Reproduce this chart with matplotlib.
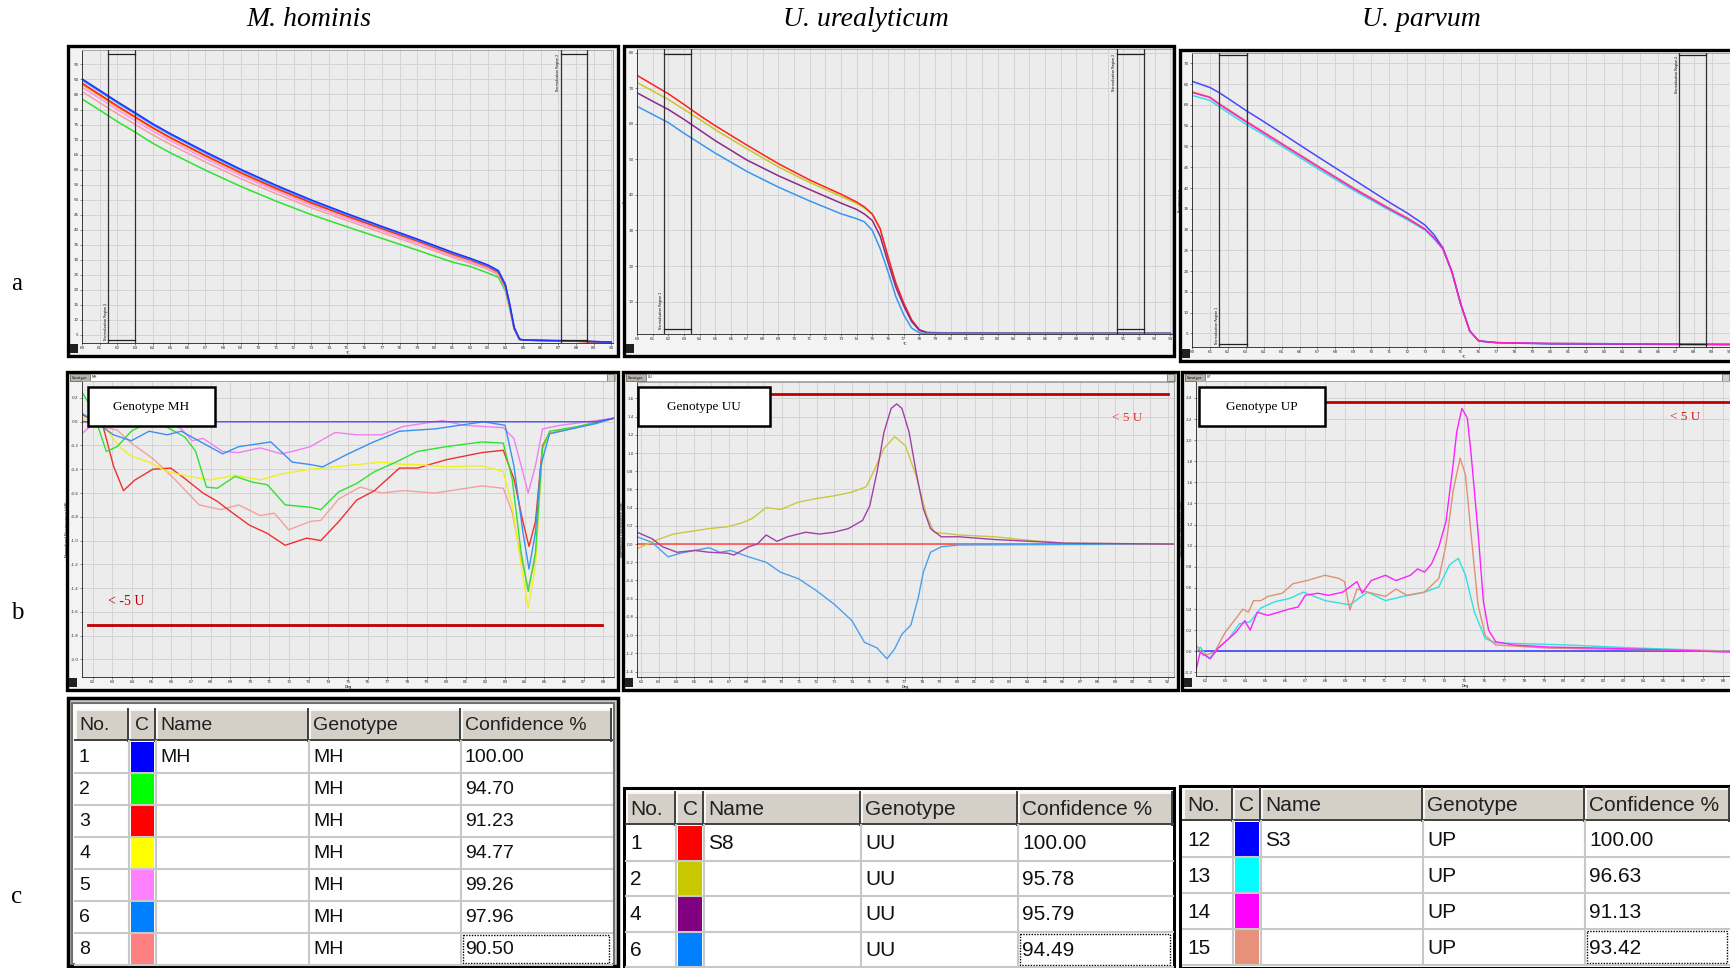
import matplotlib
matplotlib.use("Agg")
import matplotlib.pyplot as plt
from matplotlib.patches import Rectangle

W, H = 1730, 968

# ---------------- row a : raw melt curves ----------------
# M. hominis
mh_raw_t = [60, 61, 62, 63, 64, 65, 67, 69, 71, 73, 75, 77, 79, 81, 82, 83, 83.6, 84, 84.25, 84.5, 84.8, 85, 86, 88, 90]
mh_raw_blue = [90.2, 86.4, 82.6, 79.0, 75.3, 72.0, 65.9, 60.1, 54.8, 49.9, 45.4, 41.1, 36.9, 32.5, 30.5, 28.3, 26.4, 21.8, 15.2, 7.5, 3.6, 3.3, 3.2, 3.0, 2.6]
mh_raw_ltblue = [89.8, 86.0, 82.2, 78.6, 74.9, 71.6, 65.5, 59.7, 54.4, 49.5, 45.1, 40.8, 36.6, 32.2, 30.2, 28.0, 26.1, 21.4, 14.8, 7.2, 3.6, 3.3, 3.2, 3.0, 2.6]
mh_raw_red = [88.8, 85.0, 81.2, 77.6, 74.0, 70.7, 64.7, 59.0, 53.8, 49.0, 44.6, 40.4, 36.3, 31.9, 30.0, 27.8, 25.9, 21.1, 14.6, 7.1, 3.5, 3.3, 3.1, 2.9, 2.5]
mh_raw_yellow = [88.3, 84.6, 80.8, 77.3, 73.7, 70.4, 64.4, 58.7, 53.5, 48.7, 44.4, 40.2, 36.1, 31.7, 29.8, 27.6, 25.7, 20.9, 14.4, 7.0, 3.5, 3.3, 3.1, 2.9, 2.5]
mh_raw_pink = [87.4, 83.7, 79.9, 76.4, 72.8, 69.6, 63.6, 58.0, 52.9, 48.1, 43.8, 39.7, 35.6, 31.3, 29.4, 27.2, 25.4, 20.6, 14.1, 6.9, 3.5, 3.3, 3.1, 2.9, 2.5]
mh_raw_salmon = [86.0, 82.3, 78.6, 75.1, 71.6, 68.4, 62.5, 57.0, 52.0, 47.3, 43.1, 39.0, 35.0, 30.8, 28.9, 26.8, 25.0, 20.3, 13.9, 6.8, 3.5, 3.3, 3.1, 2.9, 2.5]
mh_raw_green = [83.5, 79.8, 76.0, 72.5, 68.8, 65.6, 59.8, 54.4, 49.5, 45.0, 41.0, 37.1, 33.2, 29.2, 27.8, 25.6, 24.2, 19.6, 13.5, 6.9, 3.6, 3.3, 3.1, 2.9, 2.5]

# U. urealyticum
uu_raw_t = [60, 61, 62, 63, 64, 65, 67, 69, 71, 73, 74, 74.5, 75, 75.5, 76, 76.5, 77, 77.5, 78, 78.5, 80, 85, 90, 94]
uu_raw_red = [73.6, 71.0, 68.4, 65.4, 62.3, 59.4, 54.0, 48.8, 44.2, 40.2, 38.0, 36.6, 34.6, 30.5, 22.6, 15.2, 9.6, 4.9, 2.1, 1.3, 1.2, 1.1, 1.1, 1.1]
uu_raw_olive = [71.6, 69.2, 66.8, 64.0, 61.2, 58.3, 53.0, 47.9, 43.5, 39.6, 37.6, 36.3, 34.5, 30.3, 22.4, 15.0, 9.5, 4.8, 2.0, 1.3, 1.2, 1.1, 1.1, 1.1]
uu_raw_purple = [68.7, 66.3, 64.0, 61.2, 58.2, 55.2, 49.8, 45.4, 41.5, 37.7, 35.9, 34.6, 32.8, 28.4, 21.0, 14.0, 8.8, 4.4, 1.9, 1.3, 1.2, 1.1, 1.1, 1.1]
uu_raw_blue = [64.9, 62.6, 60.3, 57.3, 54.5, 51.7, 46.6, 42.2, 38.3, 34.7, 33.3, 32.4, 30.0, 24.9, 18.4, 11.4, 6.3, 2.6, 1.2, 1.1, 1.1, 1.1, 1.1, 1.1]

# U. parvum
up_raw_t = [60, 61, 61.5, 62, 63, 64, 65, 67, 69, 71, 72, 73, 73.5, 74, 74.5, 75, 75.5, 76, 77, 80, 85, 90]
up_raw_blue = [65.7, 64.2, 63.0, 61.6, 58.7, 56.0, 53.2, 47.6, 42.1, 36.6, 34.0, 31.1, 28.8, 25.6, 19.9, 12.0, 5.6, 3.2, 2.8, 2.5, 2.4, 2.3]
up_raw_magenta = [63.0, 61.8, 60.2, 58.8, 56.0, 53.3, 50.6, 45.2, 39.9, 35.0, 32.7, 30.1, 28.0, 25.4, 19.9, 12.0, 5.6, 3.2, 2.8, 2.6, 2.5, 2.4]
up_raw_salmon = [63.2, 61.9, 60.4, 59.0, 56.2, 53.5, 50.8, 45.4, 40.1, 35.2, 32.9, 30.2, 28.1, 25.5, 19.9, 12.0, 5.6, 3.2, 2.8, 2.6, 2.5, 2.4]
up_raw_cyan = [62.3, 61.1, 59.6, 58.2, 55.4, 52.8, 50.1, 44.7, 39.5, 34.7, 32.4, 29.9, 27.8, 25.3, 19.8, 12.0, 5.6, 3.2, 2.8, 2.6, 2.5, 2.4]

# ---------------- row b : difference plots ----------------
mh_ref_t = [61.45, 87.64, 88.55]
mh_ref_v = [0.0, 0.0, 0.03]
mh_dif_ltblue_t = [61.45, 62.14, 63.05, 63.96, 64.87, 65.79, 66.51, 67.61, 68.61, 69.43, 71.07, 72.16, 73.07, 73.71, 74.89, 76.17, 77.62, 79.45, 81.9, 83.0, 83.45, 83.91, 84.22, 84.55, 84.82, 85.27, 87.64, 88.55]
mh_dif_ltblue_v = [0.07, 0.0, -0.11, -0.16, -0.08, -0.11, -0.08, -0.18, -0.27, -0.21, -0.17, -0.34, -0.36, -0.38, -0.28, -0.18, -0.08, -0.06, 0.0, -0.03, -0.37, -0.93, -1.24, -0.93, -0.37, -0.1, -0.015, 0.03]
mh_dif_pink_t = [61.45, 62.14, 63.96, 65.79, 66.51, 67.06, 67.61, 68.61, 69.43, 70.52, 71.61, 72.16, 73.07, 74.35, 75.44, 76.71, 77.81, 79.81, 80.9, 82.91, 83.45, 83.82, 84.18, 84.55, 84.91, 85.82, 88.55]
mh_dif_pink_v = [-0.1, 0.0, 0.05, 0.0, -0.06, -0.16, -0.14, -0.25, -0.26, -0.22, -0.27, -0.25, -0.21, -0.09, -0.11, -0.11, -0.04, 0.01, -0.03, -0.05, -0.14, -0.37, -0.6, -0.37, -0.06, -0.03, 0.03]
mh_dif_green_t = [61.45, 61.96, 62.69, 63.24, 63.96, 64.51, 65.6, 66.7, 67.24, 67.79, 68.34, 69.25, 70.16, 70.89, 71.8, 73.07, 73.62, 74.53, 75.44, 76.35, 77.44, 78.54, 80.0, 81.81, 82.91, 83.36, 83.82, 84.18, 84.55, 84.91, 85.27, 86.73, 88.55]
mh_dif_green_v = [0.25, 0.11, -0.25, -0.21, -0.08, -0.03, -0.03, -0.13, -0.25, -0.55, -0.56, -0.46, -0.51, -0.53, -0.70, -0.72, -0.74, -0.59, -0.52, -0.42, -0.34, -0.25, -0.21, -0.17, -0.18, -0.48, -1.1, -1.43, -1.1, -0.22, -0.08, -0.04, 0.03]
mh_dif_red_t = [61.45, 62.51, 63.05, 63.56, 64.15, 65.06, 65.97, 66.7, 67.61, 68.34, 69.06, 69.97, 70.89, 71.8, 72.89, 73.62, 74.53, 75.44, 76.35, 77.62, 78.54, 80.0, 81.81, 82.91, 83.45, 83.91, 84.22, 84.55, 84.91, 85.27, 88.55]
mh_dif_red_v = [0.06, -0.03, -0.37, -0.58, -0.49, -0.4, -0.39, -0.48, -0.6, -0.67, -0.76, -0.87, -0.94, -1.04, -0.98, -1.0, -0.84, -0.66, -0.58, -0.39, -0.39, -0.32, -0.26, -0.24, -0.48, -0.84, -1.05, -0.84, -0.2, -0.1, 0.03]
mh_dif_yellow_t = [61.45, 62.51, 63.42, 63.96, 64.87, 65.79, 66.88, 67.97, 69.25, 70.52, 71.61, 73.07, 74.89, 76.71, 77.81, 78.54, 80.0, 81.81, 82.91, 83.36, 83.82, 84.18, 84.55, 84.91, 85.27, 88.55]
mh_dif_yellow_v = [0.03, -0.03, -0.22, -0.29, -0.34, -0.42, -0.46, -0.49, -0.45, -0.49, -0.44, -0.4, -0.37, -0.34, -0.36, -0.36, -0.38, -0.37, -0.42, -0.7, -1.21, -1.57, -1.21, -0.22, -0.1, 0.03]
mh_dif_salmon_t = [61.45, 62.14, 63.24, 63.96, 65.06, 66.15, 67.42, 68.52, 69.43, 70.52, 71.25, 71.98, 73.07, 73.62, 74.53, 75.62, 76.71, 77.81, 79.45, 81.81, 82.91, 83.36, 83.82, 84.18, 84.55, 84.91, 85.27, 88.55]
mh_dif_salmon_v = [0.01, -0.03, -0.07, -0.18, -0.31, -0.48, -0.7, -0.74, -0.7, -0.79, -0.77, -0.91, -0.84, -0.83, -0.65, -0.55, -0.6, -0.58, -0.6, -0.54, -0.56, -0.76, -1.15, -1.4, -1.15, -0.22, -0.1, 0.03]

uu_ref_t = [61.76, 92.35]
uu_ref_v = [0.0, 0.0]
uu_dif_purple_t = [61.76, 62.61, 63.22, 64.04, 65.05, 65.87, 66.89, 67.29, 68.11, 68.61, 69.12, 69.73, 70.34, 71.36, 72.17, 72.99, 73.8, 74.61, 75.02, 75.43, 75.83, 76.24, 76.55, 76.85, 77.26, 77.66, 78.07, 78.48, 79.09, 80.1, 82.14, 84.17, 86.2, 92.35]
uu_dif_purple_v = [0.13, 0.06, -0.03, -0.09, -0.07, -0.09, -0.1, -0.12, -0.03, 0.0, 0.1, 0.03, 0.08, 0.13, 0.11, 0.13, 0.17, 0.26, 0.42, 0.79, 1.23, 1.49, 1.54, 1.49, 1.23, 0.79, 0.39, 0.17, 0.08, 0.08, 0.05, 0.03, 0.01, 0.0]
uu_dif_olive_t = [61.76, 62.82, 63.83, 64.85, 65.87, 66.89, 67.7, 68.31, 69.12, 69.94, 70.95, 71.97, 72.99, 74.0, 74.82, 75.22, 75.83, 76.44, 77.05, 77.66, 78.27, 78.68, 80.1, 82.14, 84.17, 86.2, 92.35]
uu_dif_olive_v = [-0.05, 0.04, 0.11, 0.14, 0.17, 0.19, 0.23, 0.28, 0.4, 0.38, 0.46, 0.5, 0.53, 0.57, 0.63, 0.79, 1.05, 1.18, 1.08, 0.75, 0.31, 0.13, 0.1, 0.08, 0.04, 0.01, 0.0]
uu_dif_blue_t = [61.76, 62.61, 63.53, 64.24, 65.05, 65.87, 66.48, 67.09, 68.11, 69.12, 69.94, 70.95, 71.97, 72.99, 74.0, 74.72, 75.43, 76.0, 76.44, 76.85, 77.36, 77.77, 78.07, 78.48, 79.09, 80.1, 92.35]
uu_dif_blue_v = [0.08, 0.02, -0.14, -0.1, -0.07, -0.04, -0.09, -0.07, -0.14, -0.2, -0.31, -0.38, -0.51, -0.66, -0.84, -1.08, -1.14, -1.26, -1.15, -0.99, -0.89, -0.6, -0.31, -0.09, -0.03, -0.01, 0.0]

up_ref_t = [61.52, 88.6]
up_ref_v = [0.0, 0.0]
up_dif_magenta_t = [61.52, 61.73, 62.24, 62.63, 62.99, 63.52, 63.97, 64.24, 64.6, 65.13, 65.67, 66.21, 66.65, 67.01, 67.64, 68.17, 68.89, 69.61, 69.87, 70.32, 71.04, 71.57, 72.29, 72.65, 73.0, 73.36, 73.72, 74.08, 74.44, 74.62, 74.88, 75.15, 75.33, 75.69, 75.96, 76.22, 76.58, 77.48, 79.27, 81.95, 85.53, 88.6]
up_dif_magenta_v = [-0.18, -0.01, -0.07, 0.03, 0.09, 0.18, 0.29, 0.2, 0.37, 0.34, 0.37, 0.4, 0.42, 0.53, 0.55, 0.53, 0.56, 0.66, 0.55, 0.67, 0.72, 0.67, 0.72, 0.78, 0.75, 0.83, 0.99, 1.23, 1.77, 2.08, 2.3, 2.21, 1.89, 1.13, 0.47, 0.2, 0.09, 0.06, 0.04, 0.03, 0.01, -0.01]
up_dif_salmon_t = [61.52, 61.91, 62.45, 62.99, 63.52, 63.88, 64.15, 64.42, 64.78, 65.13, 65.85, 66.39, 67.1, 68.0, 68.71, 68.98, 69.25, 69.61, 70.14, 71.04, 71.57, 72.11, 73.0, 73.72, 74.08, 74.44, 74.79, 75.06, 75.33, 75.69, 76.05, 76.58, 79.27, 88.6]
up_dif_salmon_v = [0.06, -0.04, -0.01, 0.18, 0.31, 0.4, 0.37, 0.48, 0.48, 0.52, 0.55, 0.64, 0.67, 0.72, 0.69, 0.66, 0.39, 0.59, 0.56, 0.52, 0.59, 0.53, 0.56, 0.69, 1.01, 1.52, 1.83, 1.67, 1.13, 0.44, 0.15, 0.06, 0.03, 0.0]
up_dif_cyan_t = [61.52, 61.73, 62.18, 62.63, 63.17, 63.7, 64.24, 64.78, 65.49, 66.21, 66.92, 68.0, 69.25, 70.14, 71.04, 71.93, 73.0, 73.72, 74.26, 74.7, 75.06, 75.51, 76.05, 76.58, 80.16, 83.74, 88.6]
up_dif_cyan_v = [-0.01, 0.04, -0.07, 0.03, 0.12, 0.26, 0.28, 0.41, 0.47, 0.5, 0.56, 0.48, 0.44, 0.56, 0.48, 0.52, 0.56, 0.61, 0.82, 0.88, 0.72, 0.37, 0.12, 0.08, 0.06, 0.03, 0.0]

# ---------------- row c : tables ----------------
tbl_head = ["No.", "C", "Name", "Genotype", "Confidence %"]
mh_no = ["1", "2", "3", "4", "5", "6", "8"]
mh_name = ["MH", "", "", "", "", "", ""]
mh_geno = ["MH", "MH", "MH", "MH", "MH", "MH", "MH"]
mh_conf = ["100.00", "94.70", "91.23", "94.77", "99.26", "97.96", "90.50"]
mh_col = ["#0000ff", "#00ff00", "#ff0000", "#ffff00", "#ff80ff", "#0080ff", "#ff8080"]
uu_no = ["1", "2", "4", "6"]
uu_name = ["S8", "", "", ""]
uu_geno = ["UU", "UU", "UU", "UU"]
uu_conf = ["100.00", "95.78", "95.79", "94.49"]
uu_col = ["#ff0000", "#c8c800", "#800080", "#0080ff"]
up_no = ["12", "13", "14", "15"]
up_name = ["S3", "", "", ""]
up_geno = ["UP", "UP", "UP", "UP"]
up_conf = ["100.00", "96.63", "91.13", "93.42"]
up_col = ["#0000ff", "#00ffff", "#ff00ff", "#e8907a"]

fig = plt.figure(figsize=(17.3, 9.68), dpi=100)
fig.patch.set_facecolor("white")

# pixel-space background layer for frames and tables
bg = fig.add_axes([0, 0, 1, 1], zorder=-5)
bg.set_xlim(0, W)
bg.set_ylim(H, 0)
bg.axis("off")


def box(x0, y0, x1, y1):
    return [x0 / W, 1 - y1 / H, (x1 - x0) / W, (y1 - y0) / H]


def screen(frame, plot, xlim, ylim, xticks, yticks, yfmt, ylab, xlab, toolbar=None):
    fx0, fy0, fx1, fy1 = frame
    bg.add_patch(Rectangle((fx0, fy0), fx1 - fx0, fy1 - fy0, facecolor="#f3f3f3",
                           edgecolor="black", lw=2.4))
    bg.add_patch(Rectangle((fx0 + 2, fy1 - 12), 8, 9, facecolor="#202020", edgecolor="none"))
    if toolbar:
        bg.add_patch(Rectangle((fx0 + 3, fy0 + 2), fx1 - fx0 - 6, 7, facecolor="white",
                               edgecolor="#909090", lw=0.5))
        bg.add_patch(Rectangle((fx0 + 3, fy0 + 2), 20, 7, facecolor="#b8b4ac",
                               edgecolor="#606060", lw=0.5))
        bg.text(fx0 + 13, fy0 + 5.5, "Genotype", fontsize=2.3, ha="center", va="center")
        bg.text(fx0 + 25, fy0 + 5.5, toolbar, fontsize=2.3, ha="left", va="center")
        bg.add_patch(Rectangle((fx1 - 11, fy0 + 2), 7, 7, facecolor="#d4d0c8",
                               edgecolor="#606060", lw=0.5))
    ax = fig.add_axes(box(*plot))
    ax.set_xlim(xlim)
    ax.set_ylim(ylim)
    ax.set_xticks(xticks)
    ax.set_yticks(yticks)
    ax.set_yticklabels([yfmt.format(v) for v in yticks])
    ax.set_facecolor("#ececec")
    ax.grid(True, color="#d4d4d4", lw=0.7)
    ax.set_axisbelow(True)
    ax.tick_params(labelsize=3.0, length=1.5, width=0.4, pad=1, colors="#333333")
    for s in ax.spines.values():
        s.set_color("#9a9a9a")
        s.set_linewidth(0.6)
    ax.spines["left"].set_color("#202020")
    ax.spines["bottom"].set_color("#202020")
    ax.set_ylabel(ylab, fontsize=2.6, labelpad=1)
    ax.set_xlabel(xlab, fontsize=2.6, labelpad=0.5)
    return ax


def norm_box(ax, xa, xb, ytop, ybot, label, top):
    for xx in (xa, xb):
        ax.plot([xx, xx], [ax.get_ylim()[0], ax.get_ylim()[1]], color="#303030", lw=0.9, zorder=3)
    for yy in (ytop, ybot):
        ax.plot([xa, xb], [yy, yy], color="#202020", lw=0.9, zorder=3)
    if top:
        ax.text(xa - 0.05, ytop, label, rotation=90, fontsize=2.3, ha="right", va="top")
    else:
        ax.text(xa - 0.05, ybot, label, rotation=90, fontsize=2.3, ha="right", va="bottom")


# ---- a1 : M. hominis raw ----
ax = screen((68, 46, 618, 356), (82, 50, 613, 343), (60, 90.1), (2.3, 99.8),
            list(range(60, 91)), list(range(5, 100, 5)), "{:d}", "Fluorescence", "°C")
for vals, c in [(mh_raw_green, "#30e030"), (mh_raw_salmon, "#f4a0a0"), (mh_raw_pink, "#ff90ff"),
                (mh_raw_yellow, "#ffa000"), (mh_raw_red, "#ff2020"), (mh_raw_ltblue, "#3090ff"),
                (mh_raw_blue, "#2030ff")]:
    ax.plot(mh_raw_t, vals, color=c, lw=1.1)
norm_box(ax, 61.5, 63.0, 98.6, 3.2, "Normalisation Region 1", False)
norm_box(ax, 87.13, 88.6, 98.6, 3.2, "Normalisation Region 2", True)

# ---- a2 : U. urealyticum raw ----
ax = screen((624, 46, 1174, 356), (637, 49, 1172, 334), (60, 94.1), (0.9, 81),
            list(range(60, 95)), list(range(10, 81, 10)), "{:d}", "Fluorescence", "°C")
for vals, c in [(uu_raw_olive, "#c8c828"), (uu_raw_red, "#ff2020"),
                (uu_raw_purple, "#8a2a8a"), (uu_raw_blue, "#3a96f0")]:
    ax.plot(uu_raw_t, vals, color=c, lw=1.1)
norm_box(ax, 61.7, 63.45, 79.6, 2.3, "Normalisation Region 1", False)
norm_box(ax, 90.6, 92.3, 79.6, 2.3, "Normalisation Region 2", True)

# ---- a3 : U. parvum raw ----
ax = screen((1180, 50, 1733, 361), (1192, 53, 1735, 347), (60, 90.3), (1.75, 72.5),
            list(range(60, 91)), list(range(5, 71, 5)), "{:d}", "Fluorescence", "°C")
for vals, c in [(up_raw_cyan, "#30e0e0"), (up_raw_salmon, "#e09078"),
                (up_raw_blue, "#4848ff"), (up_raw_magenta, "#ff20c0")]:
    ax.plot(up_raw_t, vals, color=c, lw=1.1)
norm_box(ax, 61.53, 63.07, 71.9, 2.55, "Normalisation Region 1", False)
norm_box(ax, 87.2, 88.7, 71.9, 2.55, "Normalisation Region 2", True)

serif = "Liberation Serif"


def geno_box(ax, x0, y0, w, h, text):
    ax.add_patch(Rectangle((x0, y0), w, h, facecolor="white", edgecolor="black", lw=1.8, zorder=6))
    ax.text(x0 + w / 2, y0 + h / 2, text, fontsize=9.5, family=serif, ha="center", va="center", zorder=7)


# ---- b1 : M. hominis difference ----
yt = [round(-2.0 + 0.2 * i, 1) for i in range(12)]
ax = screen((67, 372, 618, 690), (82, 381, 614, 677), (61.45, 88.55), (-2.149, 0.343),
            list(range(62, 89)), yt, "{:.1f}", "Normalized Fluorescence (diff)", "Deg", toolbar="MH")
for tt, vv, c in [(mh_dif_salmon_t, mh_dif_salmon_v, "#f4a0a0"), (mh_dif_red_t, mh_dif_red_v, "#f03030"),
                  (mh_dif_yellow_t, mh_dif_yellow_v, "#f0f020"), (mh_dif_green_t, mh_dif_green_v, "#30e030"),
                  (mh_dif_pink_t, mh_dif_pink_v, "#f080f0"), (mh_dif_ltblue_t, mh_dif_ltblue_v, "#3a90f0"),
                  (mh_ref_t, mh_ref_v, "#5050ff")]:
    ax.plot(tt, vv, color=c, lw=1.0)
ax.plot([61.78, 87.95], [-1.713, -1.713], color="#c00000", lw=2.0)
ax.text(62.78, -1.51, "< -5 U", color="#c00000", fontsize=10, family=serif, ha="left", va="center")
geno_box(ax, 61.78, -0.034, 6.42, 0.324, "Genotype MH")

# ---- b2 : U. urealyticum difference ----
yt = [round(-1.4 + 0.2 * i, 1) for i in range(16)]
ax = screen((623, 372, 1178, 690), (637, 382, 1174, 677), (61.76, 92.35), (-1.46, 1.78),
            list(range(62, 93)), yt, "{:.1f}", "Normalized Fluorescence (diff)", "Deg", toolbar="UU")
ax.plot(uu_ref_t, uu_ref_v, color="#ff5050", lw=1.2)
for tt, vv, c in [(uu_dif_blue_t, uu_dif_blue_v, "#4aa0f0"), (uu_dif_olive_t, uu_dif_olive_v, "#c8c840"),
                  (uu_dif_purple_t, uu_dif_purple_v, "#a040a8")]:
    ax.plot(tt, vv, color=c, lw=1.0)
ax.plot([69.33, 92.0], [1.65, 1.65], color="#c00000", lw=2.0)
ax.text(89.7, 1.38, "< 5 U", color="#e83030", fontsize=9.5, family=serif, ha="center", va="center")
geno_box(ax, 61.8, 1.30, 7.53, 0.42, "Genotype UU")

# ---- b3 : U. parvum difference ----
yt = [round(-0.2 + 0.2 * i, 1) for i in range(14)]
ax = screen((1182, 372, 1733, 690), (1196, 381, 1735, 676), (61.52, 88.6), (-0.234, 2.56),
            list(range(62, 89)), yt, "{:.1f}", "Normalized Fluorescence (diff)", "Deg", toolbar="UP")
ax.plot(up_ref_t, up_ref_v, color="#4040ff", lw=1.2)
for tt, vv, c in [(up_dif_cyan_t, up_dif_cyan_v, "#30e0e0"), (up_dif_salmon_t, up_dif_salmon_v, "#e09078"),
                  (up_dif_magenta_t, up_dif_magenta_v, "#ff20ff")]:
    ax.plot(tt, vv, color=c, lw=1.0)
ax.plot([68.08, 88.7], [2.36, 2.36], color="#c00000", lw=2.0)
ax.text(86.1, 2.215, "< 5 U", color="#c82020", fontsize=9.5, family=serif, ha="center", va="center")
geno_box(ax, 61.66, 2.13, 6.34, 0.37, "Genotype UP")


# ---- tables ----
def table(cols, top, head_h, row_h, nos, names, genos, confs, colors, fs):
    n = len(nos)
    left, right = cols[0], cols[-1]
    body = top + head_h
    bg.add_patch(Rectangle((left, body), right - left, n * row_h, facecolor="white", edgecolor="none"))
    for i in range(5):
        a, b = cols[i], cols[i + 1]
        bg.add_patch(Rectangle((a, top), b - a, head_h, facecolor="#d4d0c8", edgecolor="none"))
        bg.plot([a + 1, a + 1], [top + 1, top + head_h - 1], color="white", lw=1.2)
        bg.plot([a + 1, b - 1], [top + 1, top + 1], color="white", lw=1.2)
        bg.plot([b - 1, b - 1], [top, top + head_h], color="#404040", lw=1.4)
        bg.plot([a, b], [top + head_h - 1, top + head_h - 1], color="#404040", lw=1.4)
        ha, tx = ("center", (a + b) / 2) if i == 1 else ("left", a + 4)
        bg.text(tx, top + head_h / 2 + 1, tbl_head[i], fontsize=fs, family="Liberation Sans",
                ha=ha, va="center", color="#202020")
    for r in range(n):
        y0 = body + r * row_h
        bg.plot([left, right], [y0 + row_h, y0 + row_h], color="#c8c8c8", lw=1.5)
        bg.add_patch(Rectangle((cols[1] + 2, y0 + 1), cols[2] - cols[1] - 4, row_h - 2,
                               facecolor=colors[r], edgecolor="none"))
        for i, txt in [(0, nos[r]), (2, names[r]), (3, genos[r]), (4, confs[r])]:
            bg.text(cols[i] + 4, y0 + row_h / 2 + 1, txt, fontsize=fs, family="Liberation Sans",
                    ha="left", va="center", color="#101010")
    for xx in cols[1:-1]:
        bg.plot([xx, xx], [body, body + n * row_h], color="#c8c8c8", lw=1.5)
    y0 = body + (n - 1) * row_h
    bg.add_patch(Rectangle((cols[4] + 2, y0 + 2), cols[5] - cols[4] - 5, row_h - 4, fill=False,
                           edgecolor="black", lw=1.0, ls=(0, (1, 1))))


bg.add_patch(Rectangle((68, 698), 550, 268, facecolor="#d4d0c8", edgecolor="black", lw=2.5))
bg.add_patch(Rectangle((72, 703), 542, 261, facecolor="white", edgecolor="#707070", lw=1.5))
table([75, 129, 156, 309, 461, 612], 709, 32, 32, mh_no, mh_name, mh_geno, mh_conf, mh_col, 14)

bg.add_patch(Rectangle((624, 788), 550, 180, facecolor="white", edgecolor="black", lw=2.2))
table([626, 676, 704, 861, 1018, 1173], 792, 33, 35.5, uu_no, uu_name, uu_geno, uu_conf, uu_col, 15)

bg.add_patch(Rectangle((1180, 786), 553, 182, facecolor="white", edgecolor="black", lw=2.2))
table([1183, 1233, 1261, 1423, 1585, 1730], 788, 33, 36, up_no, up_name, up_geno, up_conf, up_col, 15)

# ---- titles and row letters ----
for xc, title in [(309, "M. hominis"), (866, "U. urealyticum"), (1421, "U. parvum")]:
    fig.text(xc / W, 1 - 20 / H, title, fontsize=20, family=serif, style="italic",
             ha="center", va="center")
for yc, letter in [(284, "a"), (613, "b"), (897, "c")]:
    fig.text(17 / W, 1 - yc / H, letter, fontsize=18, family=serif, ha="center", va="center")

fig.savefig("out.png", dpi=100, facecolor="white")
